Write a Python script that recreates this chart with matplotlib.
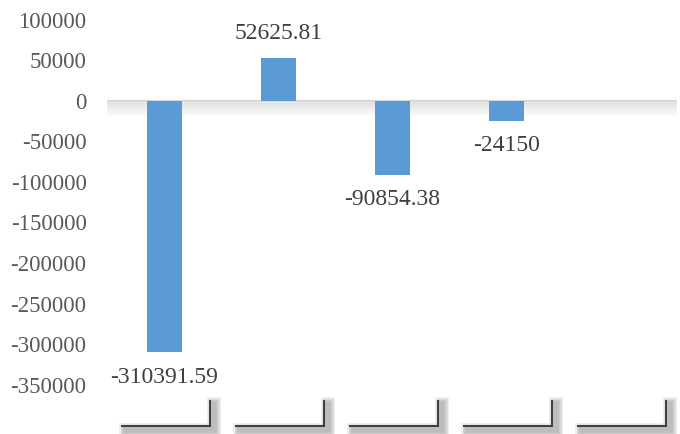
import matplotlib
matplotlib.use("Agg")
import matplotlib.pyplot as plt
import matplotlib.patheffects as pe
from matplotlib.transforms import blended_transform_factory

categories = ["", "", "", "", ""]
values = [-310391.59, 52625.81, -90854.38, -24150, None]
value_labels = ["-310391.59", "52625.81", "-90854.38", "-24150", ""]
y_ticks = [100000, 50000, 0, -50000, -100000, -150000, -200000, -250000, -300000, -350000]

BAR_COLOR = "#5B9BD5"

plt.rcParams["font.family"] = ["Liberation Serif", "DejaVu Serif"]

fig = plt.figure(figsize=(6.8, 4.34), dpi=100)
ax = fig.add_axes([0.158, 0.114, 0.8383, 0.840])

xs = list(range(len(categories)))
bar_x = [x for x, v in zip(xs, values) if v is not None]
bar_v = [v for v in values if v is not None]
ax.bar(bar_x, bar_v, width=0.31, color=BAR_COLOR, zorder=3)

# zero line with soft shadow underneath
shadow = [pe.SimpleLineShadow(offset=(0, -1.5 - 0.8 * k), shadow_color="#000000",
                              alpha=0.018, linewidth=1.5 + 1.6 * k) for k in range(6)]
ax.axhline(0, color="#d9d9d9", linewidth=1.6, zorder=2,
           path_effects=shadow + [pe.Normal()])

# data labels
for x, v, lab in zip(xs, values, value_labels):
    if v is None:
        continue
    off = 18 if v >= 0 else -18
    ax.annotate(lab, (x, v), xytext=(0, off), textcoords="offset points",
                ha="center", va="center", fontsize=17, color="#404040")

# category boxes below the plot (empty labels, drawn with shadow)
trans = blended_transform_factory(ax.transData, ax.transAxes)
box_shadow = [pe.SimpleLineShadow(offset=(2.5, -2.5), shadow_color="#000000",
                                  alpha=0.07, linewidth=w) for w in (10, 8, 6, 4)]
for x in xs:
    ax.plot([x - 0.37, x + 0.40, x + 0.40], [-0.114, -0.114, -0.045],
            transform=trans, clip_on=False, color="#404040", linewidth=1.5,
            solid_joinstyle="miter", path_effects=box_shadow + [pe.Normal()])

ax.set_xlim(-0.5, len(categories) - 0.5)
ax.set_ylim(-350000, 100000)
ax.set_yticks(y_ticks)
ax.set_yticklabels([str(t) for t in y_ticks])
ax.set_xticks([])
ax.tick_params(axis="y", length=0, pad=15, labelsize=16.5, labelcolor="#595959")
for s in ax.spines.values():
    s.set_visible(False)

fig.savefig("out.png", dpi=100)
